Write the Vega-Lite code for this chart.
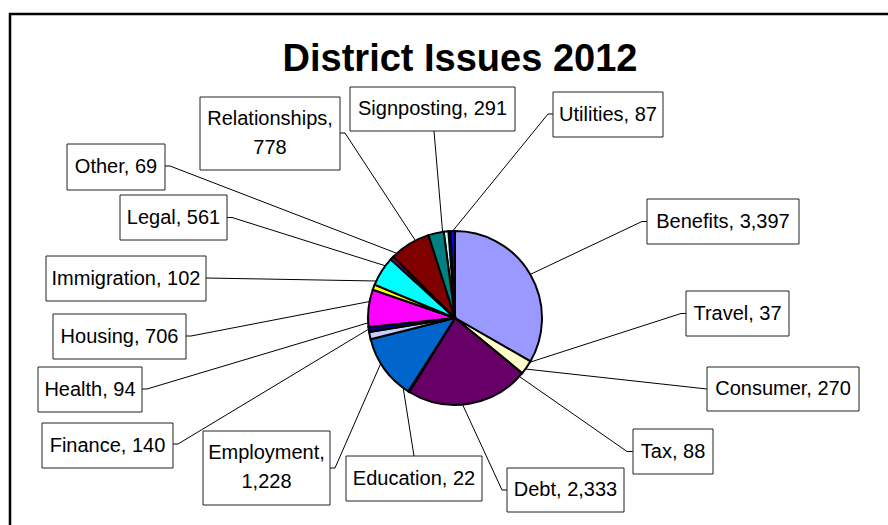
{
  "$schema": "https://vega.github.io/schema/vega-lite/v6.json",
  "width": 884,
  "height": 517,
  "autosize": {"type": "none"},
  "padding": {"left": 10, "top": 14, "right": -6, "bottom": -6},
  "background": "white",
  "config": {
    "view": {"stroke": "black", "strokeWidth": 2.5},
    "font": "Liberation Sans"
  },
  "title": {
    "text": "District Issues 2012",
    "font": "Liberation Sans",
    "fontSize": 38,
    "fontWeight": "bold",
    "color": "black",
    "anchor": "middle",
    "frame": "group",
    "orient": "top",
    "offset": -65,
    "dx": 8
  },
  "datasets": {
    "issues": [
      {"category": "Benefits", "count": 3397},
      {"category": "Travel", "count": 37},
      {"category": "Consumer", "count": 270},
      {"category": "Tax", "count": 88},
      {"category": "Debt", "count": 2333},
      {"category": "Education", "count": 22},
      {"category": "Employment", "count": 1228},
      {"category": "Finance", "count": 140},
      {"category": "Health", "count": 94},
      {"category": "Housing", "count": 706},
      {"category": "Immigration", "count": 102},
      {"category": "Legal", "count": 561},
      {"category": "Other", "count": 69},
      {"category": "Relationships", "count": 778},
      {"category": "Signposting", "count": 291},
      {"category": "Utilities", "count": 87}
    ],
    "callouts": [
      {"category": "Benefits", "label": "Benefits, 3,397", "x1": 647, "x2": 799, "y1": 199, "y2": 244, "tx": 723, "ty": 221.5, "sx": 530.3, "sy": 274.4, "ex": 642, "ey": 221.5, "bx": 647, "by": 221.5},
      {"category": "Travel", "label": "Travel, 37", "x1": 686, "x2": 789, "y1": 291, "y2": 336, "tx": 737.5, "ty": 313.5, "sx": 530.0, "sy": 362.2, "ex": 681, "ey": 313.5, "bx": 686, "by": 313.5},
      {"category": "Consumer", "label": "Consumer, 270", "x1": 707, "x2": 859, "y1": 367, "y2": 411, "tx": 783, "ty": 389, "sx": 525.4, "sy": 369.0, "ex": 707, "ey": 389, "bx": 707, "by": 389},
      {"category": "Tax", "label": "Tax, 88", "x1": 633, "x2": 713, "y1": 429, "y2": 474, "tx": 673, "ty": 451.5, "sx": 519.4, "sy": 376.5, "ex": 627, "ey": 451.5, "bx": 633, "by": 451.5},
      {"category": "Debt", "label": "Debt, 2,333", "x1": 507, "x2": 624, "y1": 468, "y2": 512, "tx": 565.5, "ty": 490, "sx": 462.6, "sy": 404.7, "ex": 502, "ey": 490, "bx": 507, "by": 490},
      {"category": "Education", "label": "Education, 22", "x1": 346, "x2": 482, "y1": 456, "y2": 501, "tx": 414, "ty": 478.5, "sx": 403.2, "sy": 387.9, "ex": 414, "ey": 456, "bx": 414, "by": 456},
      {"category": "Employment", "label": "Employment,\n1,228", "x1": 203, "x2": 330, "y1": 431, "y2": 505, "tx": 266.5, "ty": 452.5, "sx": 380.8, "sy": 363.4, "ex": 335, "ey": 468, "bx": 330, "by": 468},
      {"category": "Finance", "label": "Finance, 140", "x1": 42, "x2": 173, "y1": 423, "y2": 468, "tx": 107.5, "ty": 445.5, "sx": 368.7, "sy": 329.1, "ex": 178, "ey": 444, "bx": 173, "by": 444},
      {"category": "Health", "label": "Health, 94", "x1": 38, "x2": 142, "y1": 367, "y2": 412, "tx": 90, "ty": 389.5, "sx": 368.1, "sy": 322.8, "ex": 147, "ey": 389, "bx": 142, "by": 389},
      {"category": "Housing", "label": "Housing, 706", "x1": 53, "x2": 186, "y1": 314, "y2": 359, "tx": 119.5, "ty": 336.5, "sx": 369.6, "sy": 301.5, "ex": 191, "ey": 336, "bx": 186, "by": 336},
      {"category": "Immigration", "label": "Immigration, 102", "x1": 46, "x2": 206, "y1": 256, "y2": 301, "tx": 126, "ty": 278.5, "sx": 376.3, "sy": 281.0, "ex": 206, "ey": 278, "bx": 206, "by": 278},
      {"category": "Legal", "label": "Legal, 561", "x1": 120, "x2": 227, "y1": 195, "y2": 240, "tx": 173.5, "ty": 217.5, "sx": 385.4, "sy": 265.8, "ex": 232, "ey": 217.5, "bx": 227, "by": 217.5},
      {"category": "Other", "label": "Other, 69", "x1": 67, "x2": 165, "y1": 144, "y2": 190, "tx": 116, "ty": 167, "sx": 396.8, "sy": 253.3, "ex": 170, "ey": 166, "bx": 165, "by": 166},
      {"category": "Relationships", "label": "Relationships,\n778", "x1": 200, "x2": 340, "y1": 97, "y2": 170, "tx": 270, "ty": 118.5, "sx": 415.4, "sy": 240.5, "ex": 345, "ey": 133, "bx": 340, "by": 133},
      {"category": "Signposting", "label": "Signposting, 291", "x1": 350, "x2": 515, "y1": 87, "y2": 131, "tx": 432.5, "ty": 109, "sx": 442.6, "sy": 231.9, "ex": 434, "ey": 131, "bx": 434, "by": 131},
      {"category": "Utilities", "label": "Utilities, 87", "x1": 553, "x2": 663, "y1": 92, "y2": 137, "tx": 608, "ty": 114.5, "sx": 452.7, "sy": 231.0, "ex": 548, "ey": 114, "bx": 553, "by": 114}
    ]
  },
  "layer": [
    {
      "data": {"name": "callouts"},
      "mark": {"type": "rule", "color": "black", "strokeWidth": 1},
      "encoding": {
        "x": {"field": "sx", "type": "quantitative", "scale": {"domain": [10, 894], "nice": false, "zero": false}, "axis": null},
        "y": {"field": "sy", "type": "quantitative", "scale": {"domain": [14, 531], "reverse": true, "nice": false, "zero": false}, "axis": null},
        "x2": {"field": "ex"},
        "y2": {"field": "ey"}
      }
    },
    {
      "data": {"name": "callouts"},
      "mark": {"type": "rule", "color": "black", "strokeWidth": 1},
      "encoding": {
        "x": {"field": "ex", "type": "quantitative", "scale": {"domain": [10, 894], "nice": false, "zero": false}, "axis": null},
        "y": {"field": "ey", "type": "quantitative", "scale": {"domain": [14, 531], "reverse": true, "nice": false, "zero": false}, "axis": null},
        "x2": {"field": "bx"},
        "y2": {"field": "by"}
      }
    },
    {
      "data": {"name": "issues"},
      "mark": {"type": "arc", "outerRadius": 87, "stroke": "black", "strokeWidth": 2},
      "encoding": {
        "theta": {"field": "count", "type": "quantitative", "stack": true},
        "color": {
          "field": "category",
          "type": "nominal",
          "sort": ["Benefits", "Travel", "Consumer", "Tax", "Debt", "Education", "Employment", "Finance", "Health", "Housing", "Immigration", "Legal", "Other", "Relationships", "Signposting", "Utilities"],
          "scale": {
            "domain": ["Benefits", "Travel", "Consumer", "Tax", "Debt", "Education", "Employment", "Finance", "Health", "Housing", "Immigration", "Legal", "Other", "Relationships", "Signposting", "Utilities"],
            "range": ["#9999FF", "#993366", "#FFFFCC", "#CCFFFF", "#660066", "#FF8080", "#0066CC", "#CCCCFF", "#000080", "#FF00FF", "#FFFF00", "#00FFFF", "#800080", "#800000", "#008080", "#0000FF"]
          },
          "legend": null
        },
        "x": {"datum": 455, "type": "quantitative", "scale": {"domain": [10, 894], "nice": false, "zero": false}, "axis": null},
        "y": {"datum": 318, "type": "quantitative", "scale": {"domain": [14, 531], "reverse": true, "nice": false, "zero": false}, "axis": null}
      }
    },
    {
      "data": {"name": "callouts"},
      "mark": {"type": "rect", "fill": "white", "stroke": "#222222", "strokeWidth": 1},
      "encoding": {
        "x": {"field": "x1", "type": "quantitative", "scale": {"domain": [10, 894], "nice": false, "zero": false}, "axis": null},
        "x2": {"field": "x2"},
        "y": {"field": "y1", "type": "quantitative", "scale": {"domain": [14, 531], "reverse": true, "nice": false, "zero": false}, "axis": null},
        "y2": {"field": "y2"}
      }
    },
    {
      "data": {"name": "callouts"},
      "mark": {"type": "text", "font": "Liberation Sans", "fontSize": 20, "color": "black", "align": "center", "baseline": "middle", "lineBreak": "\n", "lineHeight": 29},
      "encoding": {
        "x": {"field": "tx", "type": "quantitative", "scale": {"domain": [10, 894], "nice": false, "zero": false}, "axis": null},
        "y": {"field": "ty", "type": "quantitative", "scale": {"domain": [14, 531], "reverse": true, "nice": false, "zero": false}, "axis": null},
        "text": {"field": "label", "type": "nominal"}
      }
    }
  ]
}
